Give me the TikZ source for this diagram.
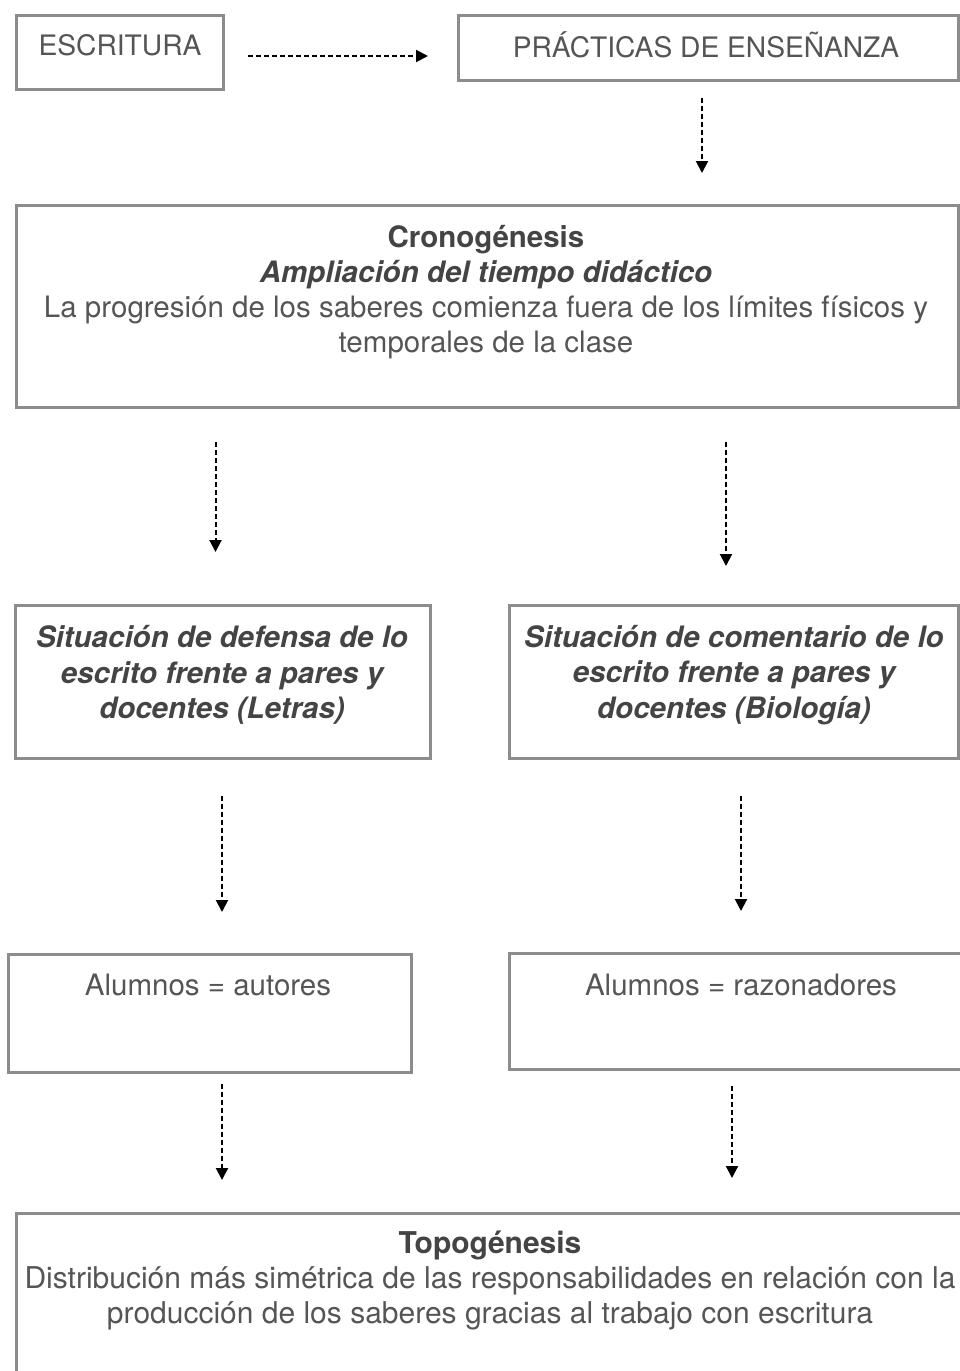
\documentclass[tikz,border=0pt]{standalone}
\usepackage{fontspec}
\setmainfont{TeX Gyre Heros}
\usetikzlibrary{arrows.meta}
\definecolor{boxgray}{HTML}{8C8C8C}
\definecolor{txtgray}{HTML}{555555}
\definecolor{ttlgray}{HTML}{444444}
\tikzset{
  box/.style={draw=boxgray, line width=2.5pt, rectangle, anchor=north west, inner sep=0pt},
  lbl/.style={text=txtgray, font=\fontsize{29.5}{35}\selectfont, align=center, inner sep=0pt},
  caps/.style={text=txtgray, font=\fontsize{28.2}{35}\selectfont, align=center, inner sep=0pt},
  sit/.style={lbl, text=ttlgray, font=\fontsize{29.5}{35.5}\selectfont\bfseries\itshape},
  link/.style={draw=black, line width=2pt, dash pattern=on 5pt off 3pt, -{Triangle[length=12pt,width=12pt]}}
}
\begin{document}
\begin{tikzpicture}[x=1pt,y=-1pt]
\useasboundingbox (0,0) rectangle (960,1371);
\clip (0,0) rectangle (960,1371);
% boxes
\node[box, minimum width=207pt, minimum height=74pt] (escB) at (15,14) {};
\node[box, minimum width=500pt, minimum height=65pt] (pracB) at (457,14) {};
\node[box, minimum width=942pt, minimum height=202pt] (cronB) at (15,204) {};
\node[box, minimum width=415pt, minimum height=153pt] (sitLB) at (14,604) {};
\node[box, minimum width=449pt, minimum height=153pt] (sitRB) at (508,604) {};
\node[box, minimum width=403pt, minimum height=118pt] (aluLB) at (7,953) {};
\node[box, minimum width=466pt, minimum height=116pt] (aluRB) at (508,952) {};
\node[box, minimum width=958pt, minimum height=200pt] (topB) at (15,1212) {};
% texts
\node[caps] (escT) at (120,45) {ESCRITURA};
\node[caps] (pracT) at (706,45) {PRÁCTICAS DE ENSEÑANZA};
\node[lbl] (cronT) at (486,292.5) {{\color{ttlgray}\bfseries Cronogénesis}\\{\color{ttlgray}\bfseries\itshape Ampliación del tiempo didáctico}\\La progresión de los saberes comienza fuera de los límites físicos y\\temporales de la clase};
\node[sit] (sitLT) at (222,675) {Situación de defensa de lo\\escrito frente a pares y\\docentes (Letras)};
\node[sit] (sitRT) at (734,675) {Situación de comentario de lo\\escrito frente a pares y\\docentes (Biología)};
\node[lbl] (aluLT) at (208,985) {Alumnos = autores};
\node[lbl] (aluRT) at (741,985) {Alumnos = razonadores};
\node[lbl, font=\fontsize{30}{35}\selectfont] (topT) at (490,1280.5) {{\color{ttlgray}\bfseries Topogénesis}\\Distribución más simétrica de las responsabilidades en relación con la\\producción de los saberes gracias al trabajo con escritura};
% connector ends
\coordinate (a1s) at (248,56);  \coordinate (a1e) at (428,56);
\coordinate (a2s) at (702,98);  \coordinate (a2e) at (702,173);
\coordinate (a3s) at (215.5,442); \coordinate (a3e) at (215.5,552);
\coordinate (a4s) at (726,442); \coordinate (a4e) at (726,566);
\coordinate (a5s) at (222,796); \coordinate (a5e) at (222,912);
\coordinate (a6s) at (741,796); \coordinate (a6e) at (741,911);
\coordinate (a7s) at (222,1084); \coordinate (a7e) at (222,1180);
\coordinate (a8s) at (732,1086); \coordinate (a8e) at (732,1178);
\draw[link] (a1s) -- (a1e);
\draw[link] (a2s) -- (a2e);
\draw[link] (a3s) -- (a3e);
\draw[link] (a4s) -- (a4e);
\draw[link] (a5s) -- (a5e);
\draw[link] (a6s) -- (a6e);
\draw[link] (a7s) -- (a7e);
\draw[link] (a8s) -- (a8e);
\end{tikzpicture}
\end{document}
